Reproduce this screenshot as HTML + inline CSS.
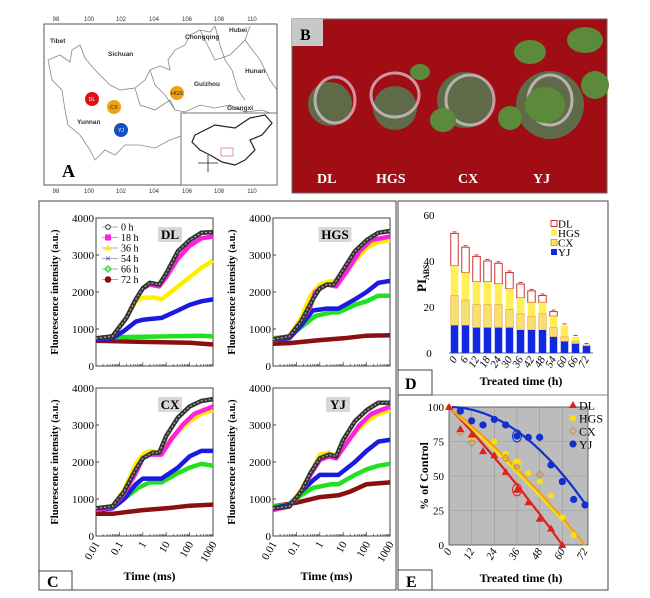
<!DOCTYPE html>
<html><head><meta charset="utf-8"><style>
html,body{margin:0;padding:0;background:#fff;}
svg{display:block;font-family:"Liberation Serif",serif;}
.s{font-family:"Liberation Sans",sans-serif;}
</style></head><body>
<svg id="c" width="650" height="598" viewBox="0 0 650 598" xmlns="http://www.w3.org/2000/svg">
<rect width="650" height="598" fill="#fff"/>
<g>
<rect x="44" y="24" width="233" height="161" fill="#fff" stroke="#555" stroke-width="1"/>
<g class="s" font-size="6" fill="#333">
<text x="56" y="21" text-anchor="middle">98</text><text x="89" y="21" text-anchor="middle">100</text><text x="121" y="21" text-anchor="middle">102</text><text x="154" y="21" text-anchor="middle">104</text><text x="187" y="21" text-anchor="middle">106</text><text x="219" y="21" text-anchor="middle">108</text><text x="252" y="21" text-anchor="middle">110</text>
<text x="56" y="193" text-anchor="middle">98</text><text x="89" y="193" text-anchor="middle">100</text><text x="121" y="193" text-anchor="middle">102</text><text x="154" y="193" text-anchor="middle">104</text><text x="187" y="193" text-anchor="middle">106</text><text x="219" y="193" text-anchor="middle">108</text><text x="252" y="193" text-anchor="middle">110</text>
</g>
<g fill="none" stroke="#888" stroke-width="0.8">
<path d="M48,60 L60,55 L70,62 L72,50 L80,45 L85,58 L95,70 L110,85 L120,90 L135,88 L145,80 L150,70 L160,66 L170,70 L168,60 L175,50 L185,45 L190,35 L200,30 L210,32 L215,26"/>
<path d="M48,60 L52,80 L62,90 L65,110 L68,125 L80,135 L90,150 L95,160 L105,150 L115,155 L125,145 L140,145 L155,148 L170,140 L181,136"/>
<path d="M150,70 L155,85 L165,95 L175,110 L185,112 L200,105 L215,108 L230,105 L245,112 L262,110 L275,115"/>
<path d="M215,26 L220,45 L225,60 L232,70 L238,90 L245,100"/>
<path d="M200,30 L210,50 L215,60 L230,55 L245,40 L250,26"/>
<path d="M245,40 L260,60 L270,80 L277,90"/>
<path d="M135,88 L140,105 L155,110 L170,100 L175,110"/>
</g>
<g class="s" font-size="6.5" font-weight="bold" fill="#333">
<text x="50" y="43">Tibet</text><text x="108" y="56">Sichuan</text><text x="185" y="39">Chongqing</text><text x="229" y="32">Hubei</text><text x="245" y="73">Hunan</text><text x="194" y="86">Guizhou</text><text x="227" y="110">Guangxi</text><text x="77" y="124">Yunnan</text>
</g>
<circle cx="92" cy="99" r="7" fill="#e0101a"/><text x="92" y="101" class="s" font-size="5" fill="#fff" text-anchor="middle">DL</text>
<circle cx="114" cy="107" r="7" fill="#f0a010"/><text x="114" y="109" class="s" font-size="5.5" fill="#222" text-anchor="middle">CX</text>
<circle cx="121" cy="130" r="7" fill="#1550c0"/><text x="121" y="132" class="s" font-size="5" fill="#fff" text-anchor="middle">YJ</text>
<circle cx="177" cy="93" r="7" fill="#f0a010"/><text x="177" y="95" class="s" font-size="5.5" fill="#222" text-anchor="middle">HGS</text>
<rect x="181" y="113" width="96" height="72" fill="#fff" stroke="#555" stroke-width="0.8"/>
<path d="M195,135 L215,125 L235,128 L250,118 L265,115 L272,123 L262,135 L250,140 L255,150 L245,160 L235,165 L222,162 L210,155 L200,150 L192,142 Z" fill="none" stroke="#222" stroke-width="1.2"/>
<rect x="221" y="148" width="12" height="8" fill="none" stroke="#c55" stroke-width="0.6"/>
<g stroke="#222" stroke-width="0.8"><line x1="198" y1="163" x2="218" y2="163"/><line x1="208" y1="155" x2="208" y2="172"/></g>
<text x="62" y="177" font-size="18" font-weight="bold">A</text>
</g>
<g>
<rect x="292" y="19" width="315" height="174" fill="#a00d14"/>
<rect x="292" y="19" width="315" height="174" fill="none" stroke="#666"/>
<g fill="#5e6a48"><circle cx="330" cy="104" r="22"/><circle cx="395" cy="108" r="22"/><circle cx="465" cy="100" r="28"/><circle cx="550" cy="105" r="34"/></g>
<g><ellipse cx="335" cy="100" rx="20" ry="23" fill="none" stroke="#e0d0d8" stroke-width="3" opacity="0.7"/><ellipse cx="395" cy="95" rx="24" ry="22" fill="none" stroke="#e0d0d8" stroke-width="3" opacity="0.7"/><ellipse cx="470" cy="100" rx="24" ry="25" fill="none" stroke="#e0d0d8" stroke-width="3" opacity="0.7"/><ellipse cx="550" cy="100" rx="22" ry="25" fill="none" stroke="#e0d0d8" stroke-width="3" opacity="0.7"/></g>
<g fill="#5a8a3a"><ellipse cx="443" cy="120" rx="13" ry="12"/><ellipse cx="510" cy="118" rx="12" ry="12"/><ellipse cx="530" cy="52" rx="16" ry="12"/><ellipse cx="585" cy="40" rx="18" ry="13"/><ellipse cx="595" cy="85" rx="14" ry="14"/><ellipse cx="545" cy="105" rx="20" ry="18"/><ellipse cx="420" cy="72" rx="10" ry="8"/></g>
<rect x="292" y="19" width="31" height="27" fill="#c8c8c8"/>
<text x="300" y="40" font-size="16" font-weight="bold">B</text>
<g font-size="14" font-weight="bold" fill="#fff"><text x="317" y="183">DL</text><text x="376" y="183">HGS</text><text x="458" y="183">CX</text><text x="533" y="183">YJ</text></g>
</g>
<rect x="39" y="201" width="357" height="389" fill="none" stroke="#444"/>
<rect x="39" y="571" width="33" height="19" fill="#fff" stroke="#444"/>
<text x="47" y="587" font-size="16" font-weight="bold">C</text>
<rect x="398" y="201" width="210" height="389" fill="none" stroke="#444"/>
<line x1="398" y1="395" x2="608" y2="395" stroke="#888"/>
<rect x="398" y="370" width="34" height="25" fill="#fff" stroke="#444"/>
<text x="405" y="389" font-size="16" font-weight="bold">D</text>
<rect x="398" y="570" width="34" height="20" fill="#fff" stroke="#444"/>
<text x="406" y="587" font-size="16" font-weight="bold">E</text>
<g id="dyn"></g>
</svg>
<script>
var NS="http://www.w3.org/2000/svg",g=document.getElementById("dyn");
function el(t,a,txt){var e=document.createElementNS(NS,t);for(var k in a)e.setAttribute(k,a[k]);if(txt!=null)e.textContent=txt;g.appendChild(e);return e;}
var cols={"0":"#333","18":"#ff20e0","36":"#ffee00","54":"#1a1ae0","66":"#20e020","72":"#8a1010"};
var data={
DL:{"72":[[-2,680],[0,650],[2,630],[3,580]],"66":[[-2,750],[-1,780],[1,800],[2.5,820],[3,800]],
"54":[[-2,700],[-1.3,750],[-0.8,950],[-0.3,1200],[0,1250],[0.8,1300],[1.5,1500],[2,1650],[2.5,1750],[3,1800]],
"36":[[-2,750],[-1.3,800],[-0.7,1300],[-0.3,1750],[0,1850],[0.5,1850],[0.8,1800],[1.2,2000],[2,2400],[2.5,2650],[3,2850]],
"18":[[-2,750],[-1.3,800],[-0.7,1300],[-0.3,1800],[0,2100],[0.3,2200],[0.7,2150],[1,2400],[1.5,2900],[2,3250],[2.5,3450],[3,3500]],
"0":[[-2,750],[-1.3,800],[-0.7,1300],[-0.3,1800],[0,2100],[0.3,2250],[0.7,2200],[1,2500],[1.5,3100],[2,3400],[2.5,3600],[3,3620]]},
HGS:{"72":[[-2,600],[-1.3,620],[0,700],[1,750],[2,820],[3,830]],
"66":[[-2,750],[-1.3,800],[-0.7,1100],[-0.2,1350],[0.5,1450],[0.8,1450],[1.5,1650],[2,1750],[2.5,1900],[3,1900]],
"54":[[-2,700],[-1.3,750],[-0.8,1100],[-0.3,1500],[0.3,1550],[0.8,1550],[1.5,1800],[2,2000],[2.5,2250],[3,2300]],
"18":[[-2,700],[-1.3,800],[-0.8,1200],[-0.4,1600],[-0.2,2000],[0.3,2200],[0.7,2150],[1.2,2600],[1.7,3100],[2.2,3400],[3,3500]],
"36":[[-2,720],[-1.3,800],[-0.8,1300],[-0.4,1900],[0,2200],[0.5,2300],[0.8,2250],[1.3,2700],[2,3200],[2.5,3350],[3,3400]],
"0":[[-2,720],[-1.3,800],[-0.8,1200],[-0.3,1800],[0,2100],[0.3,2200],[0.6,2200],[1,2600],[1.5,3100],[2,3400],[2.5,3600],[3,3650]]},
CX:{"72":[[-2,600],[-1.3,600],[0,700],[1,750],[2,820],[3,850]],
"66":[[-2,750],[-1.3,800],[-0.7,1050],[-0.2,1300],[0.3,1450],[0.8,1450],[1.5,1700],[2,1850],[2.5,1950],[3,1900]],
"54":[[-2,700],[-1.3,750],[-0.8,1000],[-0.3,1400],[0,1550],[0.8,1550],[1.5,1850],[2,2150],[2.5,2300],[3,2300]],
"18":[[-2,700],[-1.3,780],[-0.8,1150],[-0.3,1700],[0,2100],[0.3,2200],[0.8,2200],[1.2,2600],[1.7,3000],[2.2,3300],[3,3500]],
"36":[[-2,720],[-1.3,800],[-0.8,1250],[-0.3,1950],[0,2200],[0.3,2300],[0.8,2250],[1.3,2700],[2,3100],[2.5,3300],[3,3400]],
"0":[[-2,750],[-1.3,800],[-0.8,1200],[-0.3,1800],[0,2100],[0.4,2250],[0.7,2250],[1,2700],[1.5,3200],[2,3500],[2.5,3650],[3,3700]]},
YJ:{"72":[[-2,800],[-1,900],[0,1050],[0.8,1100],[1.3,1200],[2,1400],[3,1450]],
"66":[[-2,800],[-1.3,850],[-0.8,1100],[-0.3,1300],[0.5,1400],[0.8,1400],[1.5,1650],[2,1800],[2.5,1900],[3,1950]],
"54":[[-2,750],[-1.3,850],[-0.8,1200],[-0.3,1500],[0,1650],[0.8,1650],[1.5,2000],[2,2300],[2.5,2550],[3,2600]],
"18":[[-2,700],[-1.3,800],[-0.8,1200],[-0.4,1650],[0,2050],[0.4,2150],[0.7,2100],[1.2,2550],[1.7,3000],[2.2,3300],[3,3500]],
"36":[[-2,700],[-1.3,800],[-0.8,1250],[-0.3,1800],[0,2200],[0.4,2250],[0.7,2150],[1.2,2600],[2,3100],[2.5,3300],[3,3400]],
"0":[[-2,750],[-1.3,800],[-0.8,1200],[-0.4,1700],[0,2100],[0.4,2200],[0.7,2150],[1,2600],[1.5,3100],[2,3400],[2.5,3600],[3,3600]]}};
var panels=[["DL",96,218,74],["HGS",273,218,62],["CX",96,388,74],["YJ",273,388,65]];
var order=["72","66","54","36","18","0"];
panels.forEach(function(p,i){
 var nm=p[0],x0=p[1],y0=p[2],W=117,H=148,lc=p[3];
 el("rect",{x:x0,y:y0,width:W,height:H,fill:"#fff",stroke:"#444","stroke-width":1});
 for(var v=0;v<=4000;v+=1000){var yy=y0+H-v/4000*H;
  el("text",{x:x0-2,y:yy+4,"font-size":11,"text-anchor":"end"},String(v));
  el("line",{x1:x0,x2:x0+3,y1:yy,y2:yy,stroke:"#444"});}
 for(var d=0;d<5;d++)for(var m=1;m<10;m++){var xx=x0+(d+Math.log10(m))/5*W;el("line",{x1:xx,x2:xx,y1:y0+H,y2:y0+H-(m==1?4:2),stroke:"#444","stroke-width":0.7});}
 var ly=x0-38;
 el("text",{x:ly,y:y0+H/2,"font-size":10.5,"font-weight":"bold","text-anchor":"middle",transform:"rotate(-90 "+ly+" "+(y0+H/2)+")"},"Fluorescence intensity (a.u.)");
 var bw=nm.length*9+6;
 el("rect",{x:x0+lc-bw/2,y:y0+9,width:bw,height:15,fill:"#d8d8d8"});
 el("text",{x:x0+lc,y:y0+21,"font-size":13,"font-weight":"bold","text-anchor":"middle"},nm);
 order.forEach(function(k){var pts=data[nm][k].map(function(q){return (x0+(q[0]+2)/5*W).toFixed(1)+","+(y0+H-q[1]/4000*H).toFixed(1);}).join(" ");
  el("polyline",{points:pts,fill:"none",stroke:cols[k],"stroke-width":4.5,"stroke-linejoin":"round"});
  if(k=="0")el("polyline",{points:pts,fill:"none",stroke:"#aaa","stroke-width":1.2,"stroke-dasharray":"2 2"});});
 if(i>=2){var labs=["0.01","0.1","1","10","100","1000"];labs.forEach(function(s,j){var xx=x0+j/5*W;
  el("text",{x:xx+4,y:y0+H+8,"font-size":11,"text-anchor":"end",transform:"rotate(-60 "+(xx+4)+" "+(y0+H+8)+")"},s);});
  el("text",{x:x0+W/2-5,y:y0+H+44,"font-size":12,"font-weight":"bold","text-anchor":"middle"},"Time (ms)");}
});
var lg=[["0","0 h"],["18","18 h"],["36","36 h"],["54","54 h"],["66","66 h"],["72","72 h"]];
lg.forEach(function(l,j){var yy=227+j*10.5;el("line",{x1:102,x2:118,y1:yy,y2:yy,stroke:"#888","stroke-width":0.7});
 var c=cols[l[0]];
 if(l[0]=="0")el("circle",{cx:108,cy:yy,r:2.3,fill:"#fff",stroke:"#333"});
 else if(l[0]=="18")el("rect",{x:105,y:yy-3,width:6,height:6,fill:c});
 else if(l[0]=="36")el("path",{d:"M108,"+(yy-3.5)+" l3.5,6 h-7z",fill:c});
 else if(l[0]=="54")el("text",{x:108,y:yy+3.5,"font-size":11,fill:c,"text-anchor":"middle"},"×");
 else if(l[0]=="66")el("path",{d:"M108,"+(yy-3)+" l3,3 l-3,3 l-3,-3z",fill:"none",stroke:c,"stroke-width":1.3});
 else el("circle",{cx:108,cy:yy,r:3.3,fill:c});
 el("text",{x:121,y:yy+3.5,"font-size":10},l[1]);});
var dx0=449,dy0=215,dW=144,dH=138;
function dy(v){return dy0+dH-v/60*dH;}
el("line",{x1:dx0,x2:dx0+dW,y1:dy0+dH,y2:dy0+dH,stroke:"#666"});
[0,20,40,60].forEach(function(v){el("text",{x:dx0-20,y:dy(v)+4,"font-size":11,"text-anchor":"middle"},String(v));});
el("text",{x:426,y:292,"font-size":13,"font-weight":"bold",transform:"rotate(-90 426 292)"},"PI");
el("text",{x:429,y:280,"font-size":8,"font-weight":"bold",transform:"rotate(-90 429 280)"},"ABS");
var bars=[[12,25,38,52],[12,23,35,46],[11,21,31,42],[11,21,31,40],[11,21,30,39],[11,19,28,35],[10,17,24,30],[10,16,22,27],[10,17,22,25],[7,11,16,18],[5,7,12,12],[4,5,7,7],[3,3.5,3.5,3.5]];
bars.forEach(function(b,i){var xc=dx0+5.5+i*11,w=7.5,x=xc-w/2;
 el("rect",{x:x,y:dy(b[3]),width:w,height:dy(b[2])-dy(b[3]),fill:"#fff",stroke:"#d03030","stroke-width":1});
 el("rect",{x:x,y:dy(b[2]),width:w,height:dy(b[1])-dy(b[2]),fill:"#ffee55"});
 el("rect",{x:x,y:dy(b[1]),width:w,height:dy(b[0])-dy(b[1]),fill:"#f8e070",stroke:"#e8a030","stroke-width":0.6});
 el("rect",{x:x,y:dy(b[0]),width:w,height:dy(0)-dy(b[0]),fill:"#1028e0"});
 el("line",{x1:xc-2,x2:xc+2,y1:dy(b[3])-1.5,y2:dy(b[3])-1.5,stroke:"#d03030"});
 var lab=String(i*6);el("text",{x:xc+3,y:dy0+dH+6,"font-size":11,"font-style":"italic","text-anchor":"end",transform:"rotate(-60 "+(xc+3)+" "+(dy0+dH+6)+")"},lab);});
el("text",{x:521,y:385,"font-size":12,"font-weight":"bold","text-anchor":"middle"},"Treated time (h)");
var dl=[["#fff","#d03030","DL"],["#ffee55","none","HGS"],["#f8e070","#e8a030","CX"],["#1028e0","none","YJ"]];
dl.forEach(function(d,j){var yy=224+j*9.5;el("rect",{x:551,y:yy-3.5,width:6,height:6,fill:d[0],stroke:d[1]});el("text",{x:558,y:yy+3.5,"font-size":11},d[2]);});
var ex0=449,ey0=407,eW=136,eH=138;
function ex(t){return ex0+t/72*eW;}function ey(v){return ey0+eH-v/100*eH;}
el("rect",{x:ex0,y:ey0,width:eW+3,height:eH,fill:"#bcbcbc",stroke:"#444","stroke-width":0.8});
for(var t=12;t<72;t+=12)el("line",{x1:ex(t),x2:ex(t),y1:ey0,y2:ey0+eH,stroke:"#999","stroke-width":0.6});
[25,50,75].forEach(function(v){el("line",{x1:ex0,x2:ex0+eW+3,y1:ey(v),y2:ey(v),stroke:"#999","stroke-width":0.6});});
[0,25,50,75,100].forEach(function(v){el("text",{x:ex0-5,y:ey(v)+4,"font-size":11,"text-anchor":"end"},String(v));});
el("text",{x:428,y:476,"font-size":12,"font-weight":"bold","text-anchor":"middle",transform:"rotate(-90 428 476)"},"% of Control");
[0,12,24,36,48,60,72].forEach(function(t){el("text",{x:ex(t)+3,y:ey0+eH+6,"font-size":11,"font-style":"italic","text-anchor":"end",transform:"rotate(-60 "+(ex(t)+3)+" "+(ey0+eH+6)+")"},String(t));});
el("text",{x:521,y:582,"font-size":12,"font-weight":"bold","text-anchor":"middle"},"Treated time (h)");
function line(f,c,t1){var s=[];for(var t=0;t<=t1;t+=1)s.push(ex(t).toFixed(1)+","+ey(f(t)).toFixed(1));el("polyline",{points:s.join(" "),fill:"none",stroke:c,"stroke-width":2.2});}
line(function(t){return 100-t*1.667+ t*(60-t)*0.004;},"#e02020",60);
line(function(t){return 100-t*1.389+t*(72-t)*0.002;},"#ffe000",72);
line(function(t){return 100-t*1.389+t*(72-t)*0.004;},"#f0a020",72);
line(function(t){return 100-0.0135*t*t;},"#1030d0",72);
var DLp=[[0,100],[6,84],[12,80],[18,68],[24,65],[30,53],[36,40],[42,31],[48,19],[54,12],[60,0]];
var HGp=[[0,100],[12,78],[24,75],[30,66],[36,60],[42,52],[48,46],[54,36],[60,20],[66,7]];
var CXp=[[6,82],[12,74],[30,63],[36,56],[48,51]];
var YJp=[[6,97],[12,90],[18,87],[24,91],[30,87],[36,79],[42,78],[48,78],[54,58],[60,46],[66,33],[72,29]];
YJp.forEach(function(p){el("circle",{cx:ex(p[0]),cy:ey(p[1]),r:3.6,fill:"#1030d0"});});
HGp.forEach(function(p){el("circle",{cx:ex(p[0]),cy:ey(p[1]),r:3,fill:"#ffe000"});});
CXp.forEach(function(p){var x=ex(p[0]),y=ey(p[1]);el("path",{d:"M"+x+","+(y-3.5)+" l3.5,3.5 l-3.5,3.5 l-3.5,-3.5z",fill:"none",stroke:"#d09040","stroke-width":1.2});});
DLp.forEach(function(p){var x=ex(p[0]),y=ey(p[1]);el("path",{d:"M"+x+","+(y-4)+" l4,7 h-8z",fill:"#e02020"});});
el("ellipse",{cx:ex(36),cy:ey(40),rx:4.5,ry:6,fill:"none",stroke:"#e02020"});
el("ellipse",{cx:ex(36),cy:ey(58),rx:4.5,ry:6,fill:"none",stroke:"#ffe000"});
el("ellipse",{cx:ex(36),cy:ey(79),rx:4.5,ry:6,fill:"none",stroke:"#1030d0"});
var el2=[["DL","#e02020","t"],["HGS","#ffe000","c"],["CX","#d09040","d"],["YJ","#1030d0","C"]];
el2.forEach(function(d,j){var yy=405+j*13,x=573;
 if(d[2]=="t")el("path",{d:"M"+x+","+(yy-4)+" l4,7 h-8z",fill:d[1]});
 else if(d[2]=="d")el("path",{d:"M"+x+","+(yy-3.5)+" l3.5,3.5 l-3.5,3.5 l-3.5,-3.5z",fill:"none",stroke:d[1]});
 else el("circle",{cx:x,cy:yy,r:d[2]=="C"?3.6:3,fill:d[1]});
 el("text",{x:579,y:yy+4.5,"font-size":12},d[0]);});
</script>
</body></html>
